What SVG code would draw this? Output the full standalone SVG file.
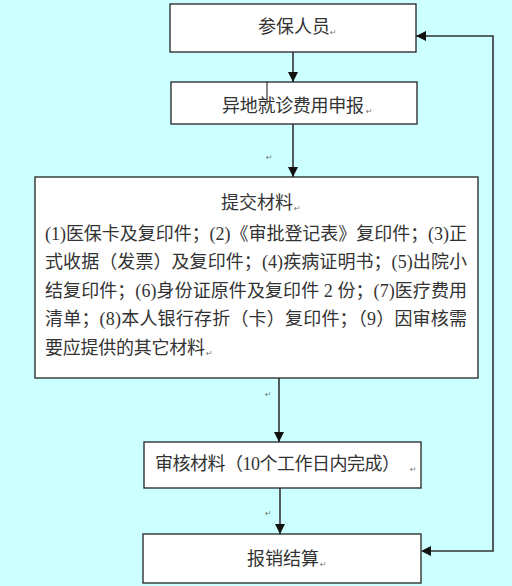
<svg xmlns="http://www.w3.org/2000/svg" width="512" height="586" viewBox="0 0 512 586">
<defs>
<style>
.box{fill:#fff;stroke:#222;stroke-width:1.3}
.t{font-family:"Liberation Serif","Noto Sans CJK SC",serif;font-size:18px;fill:#333}
.pm{font-family:"DejaVu Sans",sans-serif;font-size:8px;fill:#777}
.c{fill:none;stroke:#333;stroke-width:1.6}
</style>
<marker id="ah" viewBox="0 0 10 10" refX="10" refY="5" markerWidth="10" markerHeight="10" markerUnits="userSpaceOnUse" orient="auto">
<path d="M0,0 L10,5 L0,10 z" fill="#111"/>
</marker>
</defs>
<rect width="512" height="586" fill="#CCFFFF"/>
<g id="connectors">
<line class="c" x1="293" y1="52" x2="293" y2="82" marker-end="url(#ah)"/>
<line class="c" x1="293" y1="124" x2="293" y2="177" marker-end="url(#ah)"/>
<line class="c" x1="279" y1="378" x2="279" y2="442" marker-end="url(#ah)"/>
<line class="c" x1="280" y1="488" x2="280" y2="534" marker-end="url(#ah)"/>
<polyline class="c" points="431,551 493,551 493,36 416,36" marker-end="url(#ah)"/>
<path d="M421,551 L431,546 L431,556 z" fill="#111"/>
</g>
<g id="n1">
<rect class="box" x="170" y="4" width="246" height="48"/>
<text class="t" x="258" y="33">参保人员</text>
<text class="pm" x="330" y="35">↵</text>
</g>
<g id="n2">
<rect class="box" x="171" y="82" width="246" height="42"/>
<line x1="267" y1="82" x2="267" y2="104" stroke="#111" stroke-width="1"/>
<text class="t" x="222" y="112" textLength="142" lengthAdjust="spacing">异地就诊费用申报</text>
<text class="pm" x="366" y="114">↵</text>
</g>
<text class="pm" x="266" y="160">↵</text>
<g id="n3">
<rect class="box" x="35" y="177" width="443" height="201"/>
<text class="t" x="221" y="209">提交材料</text>
<text class="pm" x="294" y="211">↵</text>
<text class="t" x="45" y="240" textLength="422" lengthAdjust="spacing">(1)医保卡及复印件；(2)《审批登记表》复印件；(3)正</text>
<text class="t" x="45" y="268" textLength="422" lengthAdjust="spacing">式收据（发票）及复印件；(4)疾病证明书；(5)出院小</text>
<text class="t" x="45" y="297" textLength="422" lengthAdjust="spacing">结复印件；(6)身份证原件及复印件 2 份；(7)医疗费用</text>
<text class="t" x="45" y="325" textLength="422" lengthAdjust="spacing">清单；(8)本人银行存折（卡）复印件；（9）因审核需</text>
<text class="t" x="45" y="354" textLength="160" lengthAdjust="spacing">要应提供的其它材料</text>
<text class="pm" x="206" y="356">↵</text>
</g>
<text class="pm" x="265" y="397">↵</text>
<g id="n4">
<rect class="box" x="144" y="442" width="277" height="46"/>
<text class="t" x="155" y="470" textLength="245" lengthAdjust="spacing">审核材料（10个工作日内完成）</text>
<text class="pm" x="410" y="472">↵</text>
</g>
<text class="pm" x="265" y="516">↵</text>
<g id="n5">
<rect class="box" x="143" y="534" width="278" height="49"/>
<text class="t" x="247" y="565">报销结算</text>
<text class="pm" x="320" y="567">↵</text>
</g>
</svg>
